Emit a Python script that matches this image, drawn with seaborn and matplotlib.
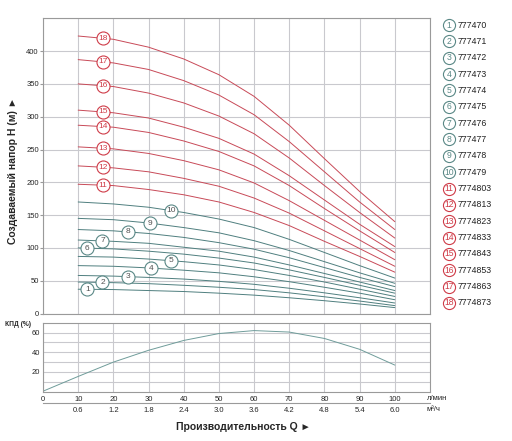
import matplotlib
matplotlib.use("Agg")
import matplotlib.pyplot as plt
import numpy as np
import pandas as pd
import seaborn as sns

sns.set_style("white")
plt.rcParams["font.family"] = ["Liberation Sans", "DejaVu Sans"]

# Flow points (l/min) where the head curves are read
q_head = [10, 20, 30, 40, 50, 60, 70, 80, 90, 100]

# Head (m) for models 1..10 (teal curves)
head_teal = [
    [37, 36.5, 35, 33.5, 31, 28, 24, 19.5, 14.5, 9],
    [48, 47, 45.5, 43, 40, 36.5, 31.5, 25.5, 19, 12],
    [58, 57, 55, 52.5, 49, 44.5, 38.5, 31.5, 24, 16],
    [73, 72, 69.5, 66, 62, 56, 48.5, 40, 31, 21],
    [87, 86, 83, 79, 74, 67, 58, 48, 37, 26],
    [100, 98.5, 95, 90.5, 84.5, 77, 66.5, 55, 43, 31],
    [112, 110, 107, 101, 95, 86, 74, 61, 48, 35],
    [128, 126, 122, 116, 108, 98, 85, 70, 55, 41],
    [145, 143, 138, 131, 123, 111, 96, 79, 62, 46],
    [170, 167, 162, 154, 144, 131, 113, 93, 73, 54],
]

# Head (m) for models 11..18 (red curves)
head_red = [
    [197, 195, 189, 181, 170, 154, 134, 110, 87, 63],
    [225, 222, 216, 206, 194, 176, 153, 126, 99, 72],
    [254, 251, 244, 233, 219, 199, 172, 142, 112, 82],
    [287, 284, 276, 263, 247, 225, 195, 160, 126, 93],
    [310, 306, 298, 284, 267, 243, 210, 173, 136, 102],
    [350, 346, 336, 321, 301, 274, 237, 195, 154, 115],
    [387, 382, 372, 355, 333, 303, 262, 216, 170, 128],
    [423, 418, 406, 388, 364, 331, 287, 236, 186, 140],
]

# Where the number badge sits on each curve (l/min)
badge_q = [12.6, 16.9, 24.2, 30.7, 36.4, 12.6, 16.9, 24.2, 30.4, 36.3,
           17, 17, 17, 17, 17, 17, 17, 17]

model_codes = ["777470", "777471", "777472", "777473", "777474", "777475",
               "777476", "777477", "777478", "777479", "7774803", "7774813",
               "7774823", "7774833", "7774843", "7774853", "7774863", "7774873"]

# Efficiency curve
q_eff = [0, 10, 20, 30, 40, 50, 60, 70, 80, 90, 100]
eff = [0.5, 15.5, 30, 42, 52, 59, 62, 60.5, 54, 43, 27]

q_ticks = [10, 20, 30, 40, 50, 60, 70, 80, 90, 100]
m3h_ticks = [0.6, 1.2, 1.8, 2.4, 3.0, 3.6, 4.2, 4.8, 5.4, 6.0]

TEAL = "#4f7f7f"
RED = "#c84a58"
TEAL_TXT = "#5a8886"
RED_TXT = "#cf3c48"
GRID = "#c9c9ce"
EDGE = "#9a9a9a"

heads = head_teal + head_red
rows = []
for i, h in enumerate(heads):
    for q, v in zip(q_head, h):
        rows.append({"curve": i + 1, "q": q, "head": v})
df = pd.DataFrame(rows)
palette = {i + 1: (TEAL if i < 10 else RED) for i in range(18)}

fig = plt.figure(figsize=(5.12, 4.41), dpi=100)
ax = fig.add_axes([43 / 512, 1 - 313.5 / 441, 387 / 512, 295.2 / 441])
ax_eff = fig.add_axes([43 / 512, 1 - 391.7 / 441, 387 / 512, 69 / 441])

# main head chart
sns.lineplot(data=df, x="q", y="head", hue="curve", palette=palette,
             legend=False, linewidth=0.7, ax=ax)
ax.set_xlim(0, 110)
ax.set_ylim(0, 450)
ax.set_xticks(range(0, 111, 10))
ax.set_xticklabels([])
ax.set_yticks(range(0, 401, 50))
ax.set_yticks([450], minor=True)
ax.grid(True, which="both", color=GRID, linewidth=0.8)
ax.set_axisbelow(True)
ax.tick_params(axis="y", labelsize=5.5, length=2, pad=1, color=EDGE, left=True)
ax.tick_params(axis="x", length=0)
ax.set_xlabel("")
ax.set_ylabel("")
for s in ax.spines.values():
    s.set_color(EDGE)
    s.set_linewidth(0.8)

for i, h in enumerate(heads):
    bx = badge_q[i]
    by = np.interp(bx, q_head, h)
    col_e = TEAL_TXT if i < 10 else RED_TXT
    ax.scatter([bx], [by], s=88, facecolor="white", edgecolor=col_e,
               linewidth=0.8, zorder=5)
    ax.text(bx, by, str(i + 1), ha="center", va="center", fontsize=6,
            color="#505050" if i < 10 else RED_TXT, zorder=6)

# efficiency chart
eff_df = pd.DataFrame({"q": q_eff, "eff": eff})
sns.lineplot(data=eff_df, x="q", y="eff", color="#6f9c9a", linewidth=0.7,
             ax=ax_eff)
ax_eff.set_xlim(0, 110)
ax_eff.set_ylim(0, 70)
ax_eff.set_xticks([0] + q_ticks)
ax_eff.set_xticklabels(["0"] + [str(q) for q in q_ticks])
ax_eff.set_yticks([20, 40, 60])
ax_eff.set_yticks([10, 30, 50], minor=True)
ax_eff.grid(True, which="both", color=GRID, linewidth=0.8)
ax_eff.set_axisbelow(True)
ax_eff.tick_params(axis="both", labelsize=5.5, length=0, pad=3)
ax_eff.tick_params(axis="y", pad=2)
ax_eff.set_xlabel("")
ax_eff.set_ylabel("")
for s in ax_eff.spines.values():
    s.set_color(EDGE)
    s.set_linewidth(0.8)

sec = ax_eff.secondary_xaxis(-0.165, functions=(lambda q: np.asarray(q) * 0.06,
                                                 lambda m: np.asarray(m) / 0.06))
sec.set_xticks(m3h_ticks)
sec.set_xticklabels([f"{m:.1f}" for m in m3h_ticks])
sec.tick_params(labelsize=5.5, length=0, pad=3)
sec.spines["bottom"].set_color(EDGE)
sec.spines["bottom"].set_linewidth(0.8)

ax_eff.text(0.992, -0.10, "л/мин", transform=ax_eff.transAxes, fontsize=5.5,
            ha="left", va="center")
ax_eff.text(0.992, -0.26, "м³/ч", transform=ax_eff.transAxes, fontsize=5.5,
            ha="left", va="center")

fig.text(243.5 / 512, 1 - 427 / 441, "Производительность Q ►", ha="center",
         va="center", fontsize=7.5, fontweight="bold")
fig.text(13.5 / 512, 1 - 171 / 441, "Создаваемый напор H (м) ►", ha="center",
         va="center", rotation=90, fontsize=7.5, fontweight="bold")
fig.text(18 / 512, 1 - 325 / 441, "КПД (%)", ha="center", va="center",
         fontsize=4.8, fontweight="bold")

# legend column
ax_leg = fig.add_axes([430 / 512, 0, 82 / 512, 1])
ax_leg.set_xlim(430, 512)
ax_leg.set_ylim(441, 0)
ax_leg.axis("off")
for i, code in enumerate(model_codes):
    y = 25 + 16.35 * i
    col_e = TEAL_TXT if i < 10 else RED_TXT
    ax_leg.scatter([449], [y], s=76, facecolor="white", edgecolor=col_e,
                   linewidth=0.8)
    ax_leg.text(449, y, str(i + 1), ha="center", va="center", fontsize=6.2,
                color=col_e)
    ax_leg.text(458, y, code, ha="left", va="center", fontsize=6.3,
                color="#222222")

fig.savefig("out.png", dpi=100)
